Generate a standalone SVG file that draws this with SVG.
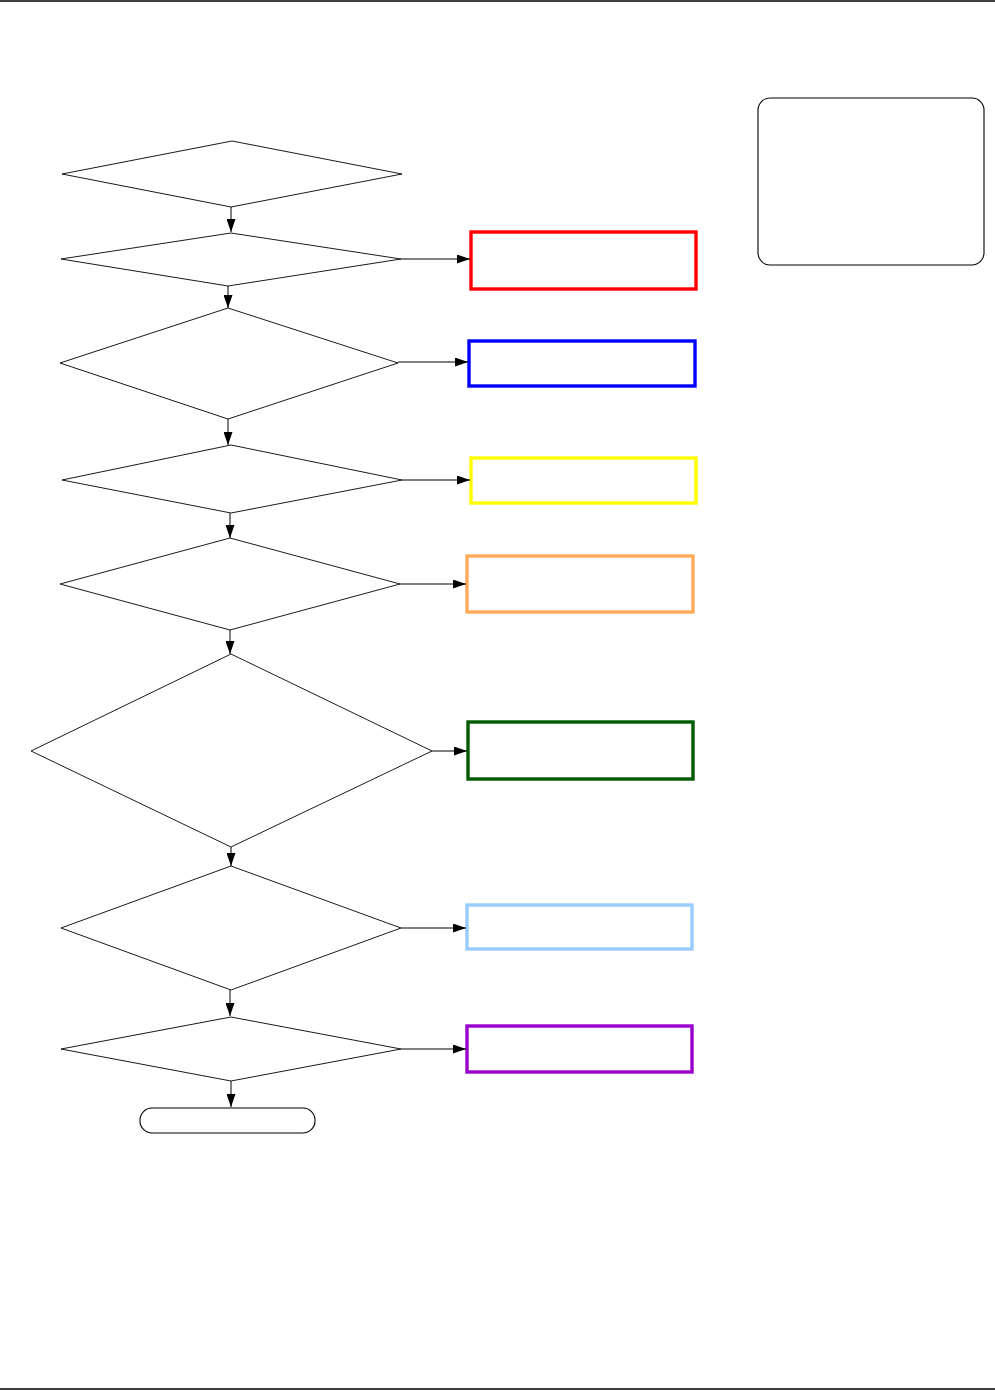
<svg xmlns="http://www.w3.org/2000/svg" width="995" height="1390" viewBox="0 0 995 1390">
<style>
.d{fill:#fff;stroke:#000;stroke-width:0.9}
.b{fill:#fff;stroke-width:3.4}
.t{fill:#fff;stroke:#000;stroke-width:1.1}
.c{fill:none;stroke:#000;stroke-width:1}
</style>
<defs>
<marker id="ah" viewBox="0 0 13 9" refX="13" refY="4.5" markerWidth="13" markerHeight="9" markerUnits="userSpaceOnUse" orient="auto">
<path d="M0,0 L13,4.5 L0,9 Z" fill="#000"/>
</marker>
</defs>
<rect width="995" height="1390" fill="#fff"/>
<line x1="0" y1="1" x2="995" y2="1" stroke="#000" stroke-width="1.5"/>
<line x1="0" y1="1389" x2="995" y2="1389" stroke="#000" stroke-width="1.5"/>
<g id="legend"><rect class="t" x="758" y="98" width="226" height="167" rx="12"/></g>
<g id="d1"><polygon class="d" points="232,141 402,174 231,207 62,174"/></g>
<g id="d2"><polygon class="d" points="231,233 401,259 228,286 61,259"/></g>
<g id="d3"><polygon class="d" points="228,308 398,363 228,419 60,363"/></g>
<g id="d4"><polygon class="d" points="231,445 402,480 231,513 62,480"/></g>
<g id="d5"><polygon class="d" points="230,538 400,584 230,630 60,584"/></g>
<g id="d6"><polygon class="d" points="231,654 432,751 231,847 31,751"/></g>
<g id="d7"><polygon class="d" points="231,866 401,928 231,990 61,928"/></g>
<g id="d8"><polygon class="d" points="231,1017 401,1049 231,1081 61,1049"/></g>
<g id="end"><rect class="t" x="140" y="1108" width="175" height="25" rx="12"/></g>
<g id="r1"><rect class="b" x="471" y="232" width="225" height="57" stroke="#ff0000"/></g>
<g id="r2"><rect class="b" x="469" y="341" width="226" height="45" stroke="#0000ff"/></g>
<g id="r3"><rect class="b" x="471" y="458" width="225" height="45" stroke="#ffff00"/></g>
<g id="r4"><rect class="b" x="467" y="556" width="226" height="56" stroke="#ffab5c"/></g>
<g id="r5"><rect class="b" x="468" y="722" width="225" height="57" stroke="#005a00"/></g>
<g id="r6"><rect class="b" x="467" y="905" width="225" height="44" stroke="#99ccff"/></g>
<g id="r7"><rect class="b" x="467" y="1026" width="225" height="46" stroke="#9900cc"/></g>
<g id="connectors">
<line class="c" x1="231" y1="207" x2="231" y2="232" marker-end="url(#ah)"/>
<line class="c" x1="228" y1="286" x2="228" y2="308" marker-end="url(#ah)"/>
<line class="c" x1="228" y1="419" x2="228" y2="445" marker-end="url(#ah)"/>
<line class="c" x1="230" y1="513" x2="230" y2="538" marker-end="url(#ah)"/>
<line class="c" x1="230" y1="630" x2="230" y2="654" marker-end="url(#ah)"/>
<line class="c" x1="231" y1="847" x2="231" y2="866" marker-end="url(#ah)"/>
<line class="c" x1="230" y1="990" x2="230" y2="1016" marker-end="url(#ah)"/>
<line class="c" x1="231" y1="1081" x2="231" y2="1107" marker-end="url(#ah)"/>
<line class="c" x1="401" y1="259" x2="470" y2="259" marker-end="url(#ah)"/>
<line class="c" x1="398" y1="362" x2="468" y2="362" marker-end="url(#ah)"/>
<line class="c" x1="402" y1="480" x2="470" y2="480" marker-end="url(#ah)"/>
<line class="c" x1="400" y1="584" x2="466" y2="584" marker-end="url(#ah)"/>
<line class="c" x1="432" y1="751" x2="467" y2="751" marker-end="url(#ah)"/>
<line class="c" x1="401" y1="928" x2="466" y2="928" marker-end="url(#ah)"/>
<line class="c" x1="401" y1="1049" x2="466" y2="1049" marker-end="url(#ah)"/>
</g>
</svg>
